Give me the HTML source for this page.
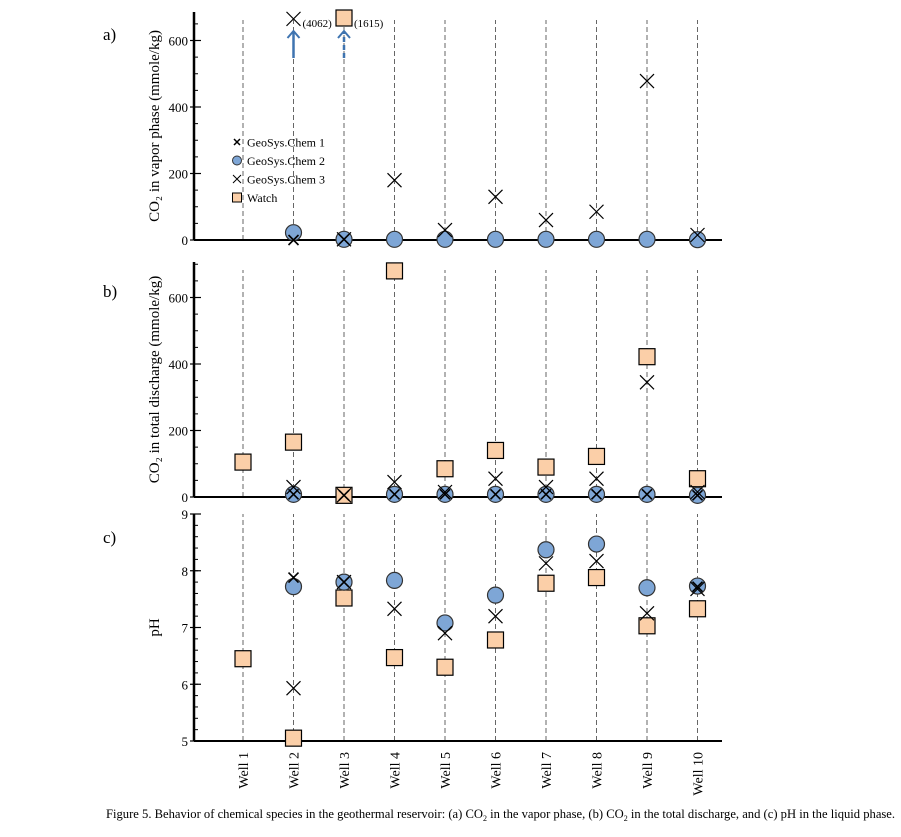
<!DOCTYPE html>
<html><head><meta charset="utf-8"><style>
body{margin:0;background:#fff;width:901px;height:832px;overflow:hidden;font-family:"Liberation Serif",serif}
</style></head><body>
<svg id="chart" width="901" height="832" xmlns="http://www.w3.org/2000/svg" font-family="Liberation Serif, serif"></svg>
<script>
const wells=["Well 1","Well 2","Well 3","Well 4","Well 5","Well 6","Well 7","Well 8","Well 9","Well 10"];
// Panel a (CO2 vapor), null = no data
const aGS1=[null,0,2,null,null,null,null,null,null,null];
const aGS2=[null,22,2,2,2,2,2,2,2,1];
const aGS3=[null,665,2,180,30,130,60,85,478,15];
const aWatch=[null,null,672,null,null,null,null,null,null,null];
// Panel b (CO2 total discharge)
const bGS1=[null,8,5,8,8,8,8,8,8,5];
const bGS2=[null,8,null,8,8,8,8,8,8,5];
const bGS3=[null,30,5,45,15,55,30,55,345,15];
const bWatch=[105,165,5,680,85,140,90,122,422,55];
// Panel c (pH)
const cGS1=[null,7.88,7.8,null,null,null,null,null,null,7.72];
const cGS2=[null,7.72,7.8,7.83,7.08,7.57,8.37,8.47,7.7,7.73];
const cGS3=[null,5.93,7.8,7.33,6.9,7.2,8.13,8.17,7.25,7.68];
const cWatch=[6.45,5.05,7.52,6.47,6.3,6.78,7.78,7.88,7.03,7.33];
const aTicks=[0,200,400,600], bTicks=[0,200,400,600], cTicks=[5,6,7,8,9];

const svg=document.getElementById('chart');const NS="http://www.w3.org/2000/svg";
function el(t,a,p){const e=document.createElementNS(NS,t);for(const k in a)e.setAttribute(k,a[k]);(p||svg).appendChild(e);return e;}
const X0=194,X1=722;
function xs(i){return 243+i*50.5;}
const panels=[
 {name:'a',y0:240,yTop:12,min:0,max:700,ticks:aTicks,minor:50,label:'CO₂ in vapor phase (mmole/kg)',tag:'a)',tagY:40,series:[aGS1,aGS2,aGS3,aWatch]},
 {name:'b',y0:497,yTop:262,min:0,max:700,ticks:bTicks,minor:50,label:'CO₂ in total discharge (mmole/kg)',tag:'b)',tagY:297,series:[bGS1,bGS2,bGS3,bWatch]},
 {name:'c',y0:741,yTop:514,min:5,max:9,ticks:cTicks,minor:0.2,label:'pH',tag:'c)',tagY:543,series:[cGS1,cGS2,cGS3,cWatch]}
];
panels.forEach(p=>{
 const ys=v=>p.y0-(v-p.min)/(p.max-p.min)*(p.y0-(p.name==='c'?p.yTop:p.y0-0.3325*700));
 const g=el('g',{});
 
 
 wells.forEach((w,i)=>{const l=el('line',{x1:xs(i),x2:xs(i),y1:p.y0,y2:p.yTop+(p.name==='c'?0:8),stroke:'#666','stroke-dasharray':'5,3','stroke-width':1},g);
  });
 const ax=el('line',{x1:X0,x2:X0,y1:p.y0,y2:p.yTop,stroke:'#000','stroke-width':2.5},g);
 
 const bx=el('line',{x1:X0,x2:X1,y1:p.y0,y2:p.y0,stroke:'#000','stroke-width':2},g);
 
 for(let v=p.min;v<=p.max+1e-9;v+=p.minor){const y=ys(v);if(y<p.yTop)break;el('line',{x1:X0,x2:X0+4,y1:y,y2:y,stroke:'#000','stroke-width':1},g);}
 p.ticks.forEach(t=>{const y=ys(t);el('line',{x1:X0-4,x2:X0+7,y1:y,y2:y,stroke:'#000','stroke-width':1.2},g);
  const tx=el('text',{x:X0-6,y:y+5,'text-anchor':'end','font-size':13},g);tx.textContent=t;
  });
 const lab=el('text',{transform:`translate(159,${(p.y0+p.yTop)/2}) rotate(-90)`,'text-anchor':'middle','font-size':15},g);
 lab.textContent=p.label;
 const tg=el('text',{x:103,y:p.tagY,'font-size':17},g);tg.textContent=p.tag;
 
 const [s1,s2,s3,s4]=p.series;
 const clip=v=>Math.max(ys(v),p.yTop+6);
 s4.forEach((v,i)=>{if(v==null)return;const y=clip(v);const r=el('rect',{x:xs(i)-8,y:y-8,width:16,height:16,fill:'#fbcfa8',stroke:'#000','stroke-width':1.2},g);
  });
 s2.forEach((v,i)=>{if(v==null)return;const c=el('circle',{cx:xs(i),cy:ys(v),r:8,fill:'#7ea6d6',stroke:'#333','stroke-width':1.2},g);
  });
 s3.forEach((v,i)=>{if(v==null)return;const y=clip(v),x=xs(i),d=7;
  const pth=el('path',{d:`M${x-d},${y-d}L${x+d},${y+d}M${x-d},${y+d}L${x+d},${y-d}`,stroke:'#000','stroke-width':1.2,fill:'none'},g);
  });
 s1.forEach((v,i)=>{if(v==null)return;const y=ys(v),x=xs(i),d=5;
  const pth=el('path',{d:`M${x-d},${y-d}L${x+d},${y+d}M${x-d},${y+d}L${x+d},${y-d}`,stroke:'#000','stroke-width':1.6,fill:'none'},g);
  });
});
function arrow(x,dash,name){const g=el('g',{});
 el('line',{x1:x,x2:x,y1:58,y2:32,stroke:'#3f74b0','stroke-width':2.5,'stroke-dasharray':dash},g);
 el('path',{d:`M${x-6},${38}L${x},${31}L${x+6},${38}`,stroke:'#3f74b0','stroke-width':2,fill:'none'},g);}
arrow(xs(1),'none','arrow-well2');arrow(xs(2),'5,3','arrow-well3');
[[xs(1)+9,'(4062)'],[xs(2)+10,'(1615)']].forEach(([x,t])=>{const e=el('text',{x:x,y:27,'font-size':11});e.textContent=t;
 });
const lg=el('g',{});
const lx=237;
[['GeoSys.Chem 1',0],['GeoSys.Chem 2',1],['GeoSys.Chem 3',2],['Watch',3]].forEach(([t,k],j)=>{const y=142+j*18.5;
 if(k===0)el('path',{d:`M${lx-3},${y-3}L${lx+3},${y+3}M${lx-3},${y+3}L${lx+3},${y-3}`,stroke:'#000','stroke-width':1.5},lg);
 if(k===1)el('circle',{cx:lx,cy:y,r:4.5,fill:'#7ea6d6',stroke:'#333'},lg);
 if(k===2)el('path',{d:`M${lx-4},${y-4}L${lx+4},${y+4}M${lx-4},${y+4}L${lx+4},${y-4}`,stroke:'#000','stroke-width':1},lg);
 if(k===3)el('rect',{x:lx-4.5,y:y-4.5,width:9,height:9,fill:'#fbcfa8',stroke:'#000'},lg);
 const e=el('text',{x:lx+10,y:y+4.5,'font-size':12},lg);e.textContent=t;
 });
wells.forEach((w,i)=>{const e=el('text',{transform:`translate(${xs(i)+5},${752}) rotate(-90)`,'text-anchor':'end','font-size':14});e.textContent=w;
 });
const cap=el('text',{x:106,y:818,'font-size':12.6});
cap.innerHTML='Figure 5. Behavior of chemical species in the geothermal reservoir: (a) CO<tspan font-size="8" dy="3">2</tspan><tspan dy="-3"> in the vapor phase, (b) CO</tspan><tspan font-size="8" dy="3">2</tspan><tspan dy="-3"> in the total discharge, and (c) pH in the liquid phase.</tspan>';

</script>
</body></html>
